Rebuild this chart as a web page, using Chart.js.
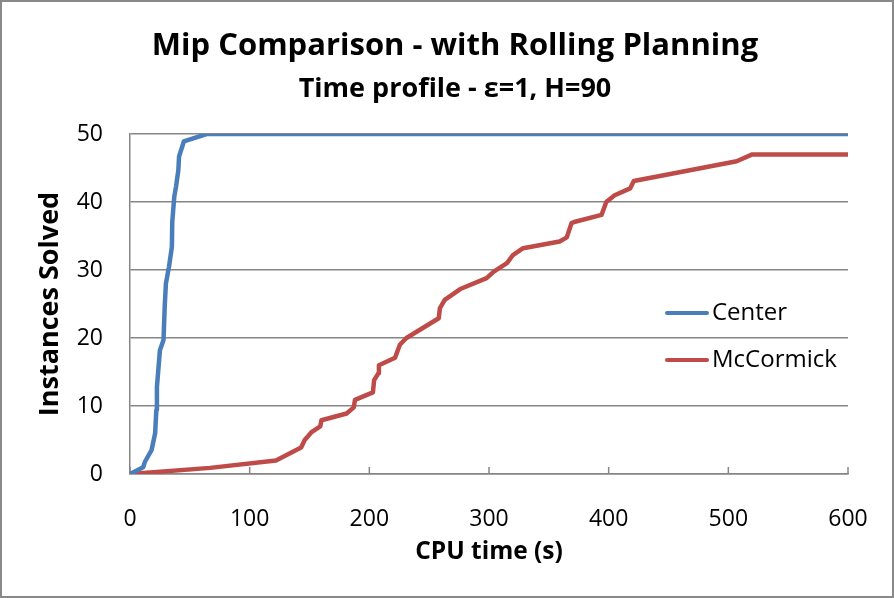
<!DOCTYPE html>
<html>
<head>
<meta charset="utf-8">
<script src="https://cdn.jsdelivr.net/npm/chart.js@4.4.0/dist/chart.umd.min.js"></script>
<style>
  html, body { margin: 0; padding: 0; background: #ffffff; }
  #wrap { width: 894px; height: 598px; }
</style>
</head>
<body>
<div id="wrap"><canvas id="c" width="894" height="598"></canvas></div>
<script>
const chartTitle = "Mip Comparison - with Rolling Planning";
const chartSubtitle = "Time profile - \u03b5=1, H=90";
const xAxisTitle = "CPU time (s)";
const yAxisTitle = "Instances Solved";
const seriesNames = ["Center", "McCormick"];

const centerTime   = [0, 11, 12.5, 18, 21, 22, 22.5, 25, 28, 29, 30, 32.6, 35, 35.3, 37, 38.5, 40.4, 41, 45, 64, 600];
const centerSolved = [0, 1, 1.8, 3.5, 6, 9.4, 12.8, 18.2, 19.7, 24.6, 28, 30.5, 33.4, 37, 40.8, 42.3, 44.7, 46.7, 48.9, 50, 50];

const mccTime   = [0, 67, 122, 143, 146, 152, 159, 160, 181, 187, 188, 203, 204, 207.5, 208, 221.5, 225.5, 231, 258, 259, 263, 276, 298, 304, 315, 320, 328.5, 359, 365, 369, 372, 394, 398, 405, 418, 421, 507, 520, 600];
const mccSolved = [0, 0.9, 2, 3.9, 5, 6.2, 7, 7.9, 8.9, 9.8, 10.9, 12, 13.8, 14.8, 16, 17.1, 19, 20, 22.9, 24.4, 25.6, 27.2, 28.8, 29.75, 31, 32.2, 33.2, 34.2, 34.8, 36.9, 37.1, 38.1, 40, 41, 42, 43.1, 46, 47, 47];

const xMin = 0, xMax = 600, xStep = 100;
const yMin = 0, yMax = 50, yStep = 10;

const toPoints = (xs, ys) => xs.map((x, i) => ({x: x, y: ys[i]}));

const FONT = "'Open Sans', Lato, sans-serif";
const GRID = "#868686";

const decorPlugin = {
  id: 'decor',
  beforeDatasetsDraw(chart) {
    const ctx = chart.ctx;
    const xs = chart.scales.x;
    const bottom = chart.chartArea.bottom;
    ctx.save();
    ctx.strokeStyle = GRID;
    ctx.lineWidth = 1.5;
    xs.ticks.forEach(t => {
      const px = xs.getPixelForValue(t.value);
      ctx.beginPath();
      ctx.moveTo(px, bottom - 7);
      ctx.lineTo(px, bottom);
      ctx.stroke();
    });
    ctx.restore();
  },
  afterDraw(chart) {
    const ctx = chart.ctx;
    ctx.save();
    ctx.fillStyle = "#000";
    ctx.textAlign = "center";
    ctx.textBaseline = "alphabetic";
    ctx.font = "bold 31px " + FONT;
    ctx.fillText(chartTitle, 455, 55);
    ctx.font = "bold 27px " + FONT;
    ctx.fillText(chartSubtitle, 455, 97);
    ctx.textAlign = "left";
    ctx.textBaseline = "middle";
    ctx.font = "24px " + FONT;
    const rows = [313, 360];
    chart.data.datasets.forEach((ds, i) => {
      const y = rows[i];
      ctx.strokeStyle = ds.borderColor;
      ctx.lineWidth = 4;
      ctx.lineCap = "round";
      ctx.beginPath();
      ctx.moveTo(667, y);
      ctx.lineTo(707, y);
      ctx.stroke();
      ctx.fillStyle = "#000";
      ctx.fillText(ds.label, 712, y);
    });
    ctx.strokeStyle = "#898989";
    ctx.lineWidth = 2;
    ctx.strokeRect(1, 1, chart.width - 2, chart.height - 2);
    ctx.restore();
  }
};

new Chart(document.getElementById('c'), {
  type: 'scatter',
  data: {
    datasets: [
      {
        label: seriesNames[0],
        data: toPoints(centerTime, centerSolved),
        showLine: true,
        borderColor: "#4A7EBB",
        backgroundColor: "#4A7EBB",
        borderWidth: 4.5,
        pointRadius: 0,
        tension: 0,
        borderJoinStyle: 'round'
      },
      {
        label: seriesNames[1],
        data: toPoints(mccTime, mccSolved),
        showLine: true,
        borderColor: "#BE4B48",
        backgroundColor: "#BE4B48",
        borderWidth: 4.5,
        pointRadius: 0,
        tension: 0,
        borderJoinStyle: 'round'
      }
    ]
  },
  options: {
    responsive: false,
    animation: false,
    devicePixelRatio: 1,
    layout: { padding: { left: 0, right: 46, top: 134, bottom: 0 } },
    plugins: {
      legend: { display: false },
      title: { display: false },
      tooltip: { enabled: false }
    },
    scales: {
      x: {
        type: 'linear',
        min: xMin, max: xMax,
        afterFit(scale) { scale.height = 124; },
        ticks: { stepSize: xStep, padding: 24, color: "#000", font: { family: FONT, size: 23 } },
        grid: { display: false },
        border: { display: true, color: GRID, width: 1.5 },
        title: { display: true, text: xAxisTitle, color: "#000", font: { family: FONT, size: 24.5, weight: 'bold' }, padding: { top: 0, bottom: 31 } }
      },
      y: {
        type: 'linear',
        min: yMin, max: yMax,
        afterFit(scale) { scale.width = 130; },
        ticks: { stepSize: yStep, padding: 27, color: "#000", font: { family: FONT, size: 23 } },
        grid: { display: true, drawTicks: false, color: GRID, lineWidth: 1.5 },
        border: { display: true, color: GRID, width: 1.5 },
        title: { display: true, text: yAxisTitle, color: "#000", font: { family: FONT, size: 27, weight: 'bold' }, padding: { top: 34, bottom: 0 } }
      }
    }
  },
  plugins: [decorPlugin]
});
</script>
</body>
</html>
